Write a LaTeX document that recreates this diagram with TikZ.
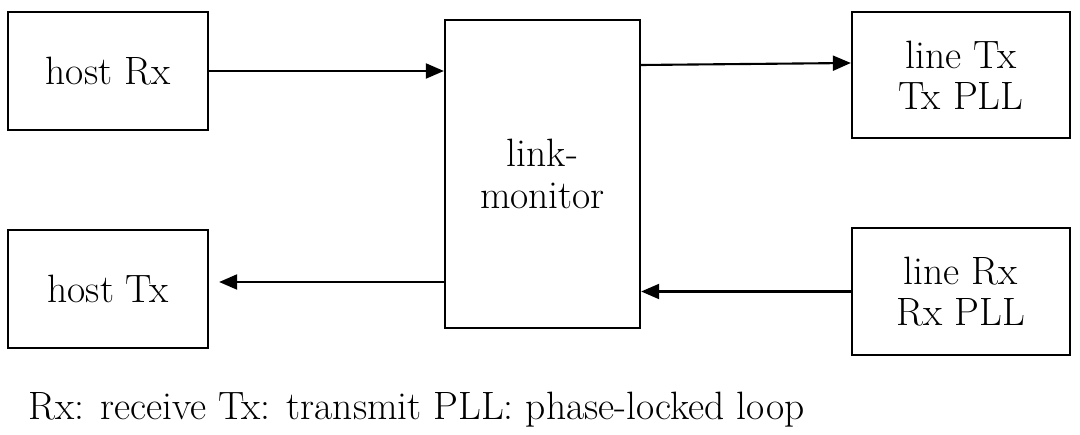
\documentclass[tikz,border=0pt]{standalone}
\usepackage{tikz}
\usetikzlibrary{arrows.meta,positioning}
\tikzstyle{hostbox} = [rectangle, draw=black, line width=1.3pt, minimum width=4.0cm, minimum height=2.36cm, align=center, font=\fontsize{22.5}{23.5}\selectfont]
\tikzstyle{linebox} = [rectangle, draw=black, line width=1.3pt, minimum width=4.36cm, minimum height=2.53cm, align=center, font=\fontsize{22.5}{23.5}\selectfont]
\tikzstyle{monitorbox} = [rectangle, draw=black, line width=1.3pt, minimum width=3.9cm, minimum height=6.16cm, align=center, font=\fontsize{22.5}{23.5}\selectfont]
\tikzstyle{arrow} = [line width=1.2pt,-{Triangle[length=0.36cm,width=0.3cm]}]

\begin{document}
\begin{tikzpicture}
\useasboundingbox (0,0) rectangle (21.6,-8.7);
\node (hostrx) [hostbox] at (2.16,-1.42) {host Rx};
\node (hosttx) [hostbox, below of=hostrx, yshift=-3.36cm] {host Tx};
\node (monitor) [monitorbox] at (10.85,-3.48) {link-\\monitor};
\node (linetx) [linebox] at (19.22,-1.5) {line Tx\\Tx PLL};
\node (linerx) [linebox, below of=linetx, yshift=-3.33cm] {line Rx\\Rx PLL};
%arrows
\draw [arrow] (hostrx.east) -- (hostrx.east -| monitor.west);
\draw [arrow] ([yshift=0.2cm]monitor.east |- linetx.west) -- ([yshift=0.24cm]linetx.west);
\draw [arrow, shorten >=0.2cm] ([yshift=0.14cm]monitor.west |- hosttx.east) -- ([yshift=0.14cm]hosttx.east);
\draw [arrow] (linerx.west) -- (linerx.west -| monitor.east);
%legend
\node (legend) [anchor=west, inner sep=0pt, font=\fontsize{22.5}{25}\selectfont] at (0.56,-8.2) {Rx: receive Tx: transmit PLL: phase-locked loop};
\end{tikzpicture}
\end{document}
